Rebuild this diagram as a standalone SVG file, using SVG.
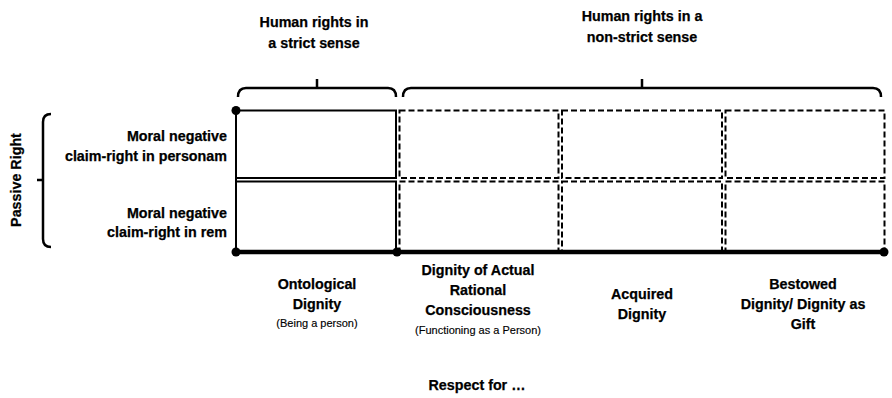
<svg xmlns="http://www.w3.org/2000/svg" width="892" height="398" viewBox="0 0 892 398">
<style>
text{font-family:"Liberation Sans",Arial,sans-serif;font-weight:bold;font-size:14.3px;fill:#000;text-anchor:middle;stroke:#000;stroke-width:0.25}
.r{text-anchor:end}
.s{font-size:11px;font-weight:normal;stroke-width:0.15}
.solid{fill:none;stroke:#000;stroke-width:2}
.dash{fill:none;stroke:#000;stroke-width:2;stroke-dasharray:6 3}
.brace{fill:none;stroke:#000;stroke-width:2.5}
.thick{stroke:#000;stroke-width:4.5}
</style>
<rect width="892" height="398" fill="#fff"/>
<g id="header-strict"><text x="314" y="27">Human rights in</text><text x="314" y="48">a strict sense</text></g>
<g id="header-nonstrict"><text x="642" y="21">Human rights in a</text><text x="642" y="42">non-strict sense</text></g>
<g id="passive-right"><text transform="translate(21,180) rotate(-90)" x="0" y="0">Passive Right</text></g>
<g id="row1-label"><text class="r" x="227" y="141">Moral negative</text><text class="r" x="227" y="161">claim-right in personam</text></g>
<g id="row2-label"><text class="r" x="227" y="218">Moral negative</text><text class="r" x="227" y="237">claim-right in rem</text></g>
<g id="cell-ontological">
<rect class="solid" x="236" y="110.5" width="160" height="67.5"/>
<rect class="solid" x="236" y="181.5" width="160" height="70.5"/>
</g>
<g id="cell-actual"><rect class="dash" x="399.5" y="110.5" width="159" height="67.5"/><rect class="dash" x="399.5" y="181.5" width="159" height="70.5"/></g>
<g id="cell-acquired"><rect class="dash" x="562" y="110.5" width="160" height="67.5"/><rect class="dash" x="562" y="181.5" width="160" height="70.5"/></g>
<g id="cell-bestowed"><rect class="dash" x="725.5" y="110.5" width="159" height="67.5"/><rect class="dash" x="725.5" y="181.5" width="159" height="70.5"/></g>
<g id="connectors">
<line class="thick" x1="236" y1="252" x2="884" y2="252"/>
<line class="solid" x1="236" y1="110" x2="236" y2="252"/>
<circle cx="236" cy="110.5" r="4.5"/>
<circle cx="236" cy="252" r="4.5"/>
<circle cx="397" cy="252" r="4.5"/>
<circle cx="884" cy="252" r="4.5"/>
<path class="brace" d="M238,97 Q238,88 246,88 L388,88 Q396,88 396,97 M317,88 L317,79"/>
<path class="brace" d="M403,97 Q403,88 411,88 L873,88 Q881,88 881,97 M642,88 L642,79"/>
<path class="brace" d="M51,114 Q43,114 43,122 L43,239 Q43,247 51,247 M43,180 L37,180"/>
</g>
<g id="label-ontological"><text x="317" y="289">Ontological</text><text x="317" y="309">Dignity</text><text class="s" x="317" y="327">(Being a person)</text></g>
<g id="label-actual"><text x="478" y="275">Dignity of Actual</text><text x="478" y="295">Rational</text><text x="478" y="315">Consciousness</text><text class="s" x="478" y="334">(Functioning as a Person)</text></g>
<g id="label-acquired"><text x="642" y="299">Acquired</text><text x="642" y="319">Dignity</text></g>
<g id="label-bestowed"><text x="803" y="289">Bestowed</text><text x="803" y="309">Dignity/ Dignity as</text><text x="803" y="329">Gift</text></g>
<g id="respect"><text x="477" y="390">Respect for …</text></g>
</svg>
